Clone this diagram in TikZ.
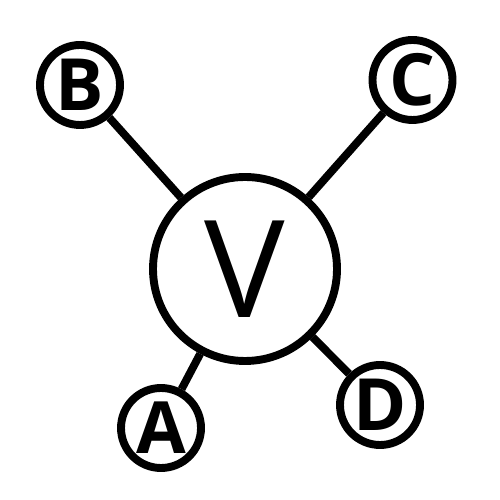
\documentclass[tikz,border=0pt]{standalone}
\usepackage{fontspec}
\setmainfont{Open Sans}
\usetikzlibrary{positioning}

\begin{document}
\begin{tikzpicture}[
    base/.style = {circle, draw=black, line width=4.5pt, fill=white,
inner sep=0pt, text centered},
hub/.style = {base, minimum size=3.68cm, font=\fontsize{77}{80}\selectfont},
leaf/.style = {base, minimum size=1.6cm, font=\fontsize{41}{43}\selectfont\bfseries},
link/.style = {draw=black, line width=4.5pt}
]

  \useasboundingbox (0,0) rectangle (10,10);

  \node (v) [hub] at (4.9,4.62) {V};
  \node (b) [leaf] at (1.6,8.3) {B};
  \node (c) [leaf] at (8.25,8.4) {C};
  \node (a) [leaf] at (3.22,1.44) {A};
  \node (d) [leaf] at (7.6,1.9) {D};

  \draw[link]     (b) -- (v);
  \draw[link]     (c) -- (v);
  \draw[link]     (a) -- (v);
  \draw[link]     (d) -- (v);

\end{tikzpicture}
\end{document}
